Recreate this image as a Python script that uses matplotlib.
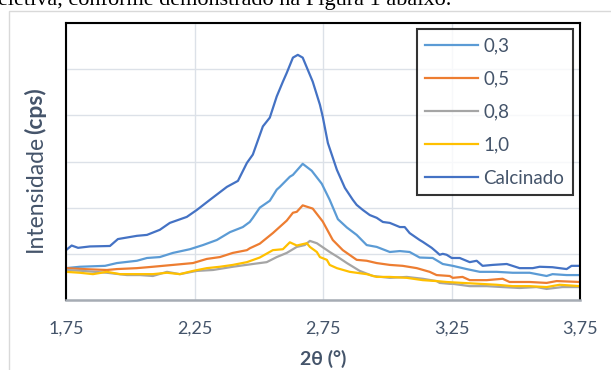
import matplotlib
matplotlib.use("Agg")
import matplotlib.pyplot as plt
from matplotlib.patches import Rectangle

# ---------------- data ----------------
t_calc = [1.750, 1.772, 1.797, 1.843, 1.921, 1.952, 2.026, 2.065, 2.115, 2.154, 2.220, 2.259, 2.310,
          2.376, 2.419, 2.454, 2.477, 2.516, 2.543, 2.570, 2.594, 2.609, 2.633, 2.652, 2.671, 2.710,
          2.738, 2.749, 2.769, 2.804, 2.835, 2.866, 2.881, 2.905, 2.932, 2.959, 2.983, 3.010, 3.049,
          3.068, 3.087, 3.126, 3.138, 3.173, 3.192, 3.204, 3.216, 3.231, 3.251, 3.282, 3.321, 3.348,
          3.371, 3.410, 3.465, 3.515, 3.566, 3.593, 3.643, 3.698, 3.717, 3.750]
v_calc = [108, 118, 113, 116, 117, 132, 139, 141, 152, 167, 180, 195, 217,
          245, 258, 297, 315, 376, 395, 441, 473, 492, 525, 531, 525, 473,
          423, 397, 340, 282, 243, 217, 206, 195, 184, 178, 169, 167, 158,
          158, 145, 130, 126, 113, 104, 98, 100, 98, 91, 91, 82, 85,
          74, 76, 78, 69, 69, 72, 71, 67, 74, 74]

t_03 = [1.750, 1.804, 1.902, 1.948, 2.026, 2.065, 2.115, 2.166, 2.232, 2.283, 2.337, 2.388, 2.438,
        2.465, 2.477, 2.504, 2.543, 2.570, 2.582, 2.621, 2.633, 2.671, 2.706, 2.745, 2.776, 2.808,
        2.843, 2.881, 2.920, 2.959, 3.010, 3.049, 3.087, 3.126, 3.177, 3.216, 3.255, 3.309, 3.360,
        3.426, 3.488, 3.554, 3.620, 3.643, 3.698, 3.750]
v_03 = [69, 72, 74, 80, 85, 91, 93, 102, 110, 119, 130, 147, 158,
        169, 178, 200, 215, 239, 245, 267, 271, 295, 280, 252, 217, 175,
        157, 141, 119, 115, 104, 106, 104, 92, 91, 78, 74, 67, 61,
        61, 59, 59, 52, 56, 54, 54]

t_05 = [1.750, 1.816, 1.909, 1.948, 2.026, 2.088, 2.166, 2.244, 2.298, 2.349, 2.399, 2.454, 2.465,
        2.504, 2.555, 2.609, 2.633, 2.648, 2.671, 2.710, 2.749, 2.788, 2.827, 2.881, 2.920, 2.959,
        3.010, 3.060, 3.115, 3.165, 3.192, 3.243, 3.255, 3.293, 3.321, 3.387, 3.449, 3.476, 3.554,
        3.620, 3.659, 3.750]
v_05 = [69, 67, 65, 67, 69, 72, 76, 80, 89, 93, 102, 108, 112,
        122, 145, 172, 189, 191, 205, 198, 170, 130, 108, 87, 85, 80,
        76, 74, 69, 61, 54, 52, 48, 50, 43, 43, 46, 39, 39,
        37, 41, 39]

t_08 = [1.750, 1.816, 1.909, 1.987, 2.038, 2.088, 2.143, 2.193, 2.259, 2.322, 2.399, 2.477, 2.531,
        2.570, 2.609, 2.648, 2.679, 2.699, 2.726, 2.776, 2.808, 2.843, 2.893, 2.944, 3.010, 3.076,
        3.138, 3.192, 3.204, 3.243, 3.255, 3.321, 3.387, 3.449, 3.515, 3.581, 3.620, 3.682, 3.750]
v_08 = [65, 63, 59, 54, 54, 52, 61, 56, 63, 65, 72, 78, 82,
        93, 102, 115, 119, 128, 123, 104, 93, 80, 63, 52, 48, 50,
        46, 41, 37, 35, 35, 30, 30, 28, 26, 28, 24, 28, 28]

t_10 = [1.750, 1.804, 1.855, 1.909, 1.960, 2.010, 2.088, 2.143, 2.193, 2.244, 2.298, 2.349, 2.399,
        2.454, 2.504, 2.555, 2.594, 2.621, 2.648, 2.671, 2.687, 2.699, 2.726, 2.738, 2.765, 2.776,
        2.804, 2.854, 2.920, 2.959, 3.010, 3.076, 3.138, 3.192, 3.231, 3.293, 3.360, 3.426, 3.488,
        3.554, 3.620, 3.671, 3.750]
v_10 = [61, 59, 56, 61, 56, 56, 56, 59, 56, 63, 69, 72, 76,
        82, 92, 108, 110, 125, 118, 121, 123, 115, 104, 93, 87, 76,
        69, 61, 56, 50, 50, 48, 43, 41, 39, 37, 35, 33, 30,
        30, 28, 33, 30]

series_labels = ["0,3", "0,5", "0,8", "1,0", "Calcinado"]
x_ticks = [1.75, 2.25, 2.75, 3.25, 3.75]
x_tick_labels = ["1,75", "2,25", "2,75", "3,25", "3,75"]

# ---------------- style ----------------
colors = ["#5B9BD5", "#ED7D31", "#A5A5A5", "#FFC000", "#4472C4"]
txt = "#44546A"
W, H = 611, 370
fig = plt.figure(figsize=(W / 100, H / 100), dpi=100)
plt.rcParams['font.family'] = ['Lato', 'DejaVu Sans']

# chart-area frame (light)
fig.patches.append(Rectangle((9 / W, -0.1), 1.2, 1 - 11 / H + 0.1, transform=fig.transFigure,
                             fill=False, edgecolor="#D9D9D9", linewidth=1.0))

# cut-off body text above the chart
fig.text(-2 / W, 1 - 5 / H, "eletiva, conforme demonstrado na Figura 1 abaixo.",
         family="Liberation Serif", fontsize=16, color="black", va="baseline", ha="left")

ax = fig.add_axes([66 / W, 1 - 300 / H, (580 - 66) / W, (300 - 23) / H])
data = [(t_03, v_03), (t_05, v_05), (t_08, v_08), (t_10, v_10), (t_calc, v_calc)]
for (t, v), c, lab in zip(data, colors, series_labels):
    ax.plot(t, v, color=c, lw=1.6, label=lab, solid_joinstyle="round")

ax.set_xlim(1.75, 3.75)
ax.set_ylim(0, 600)
ax.set_xticks(x_ticks)
ax.set_xticklabels(x_tick_labels)
ax.set_yticks(range(0, 601, 100))
ax.set_yticklabels([])
ax.tick_params(axis="both", length=0, labelsize=13, colors=txt)
ax.tick_params(axis="x", pad=15)
ax.grid(True, color="#DCE1E8", lw=1.0)
ax.set_axisbelow(True)
for s in ["left", "top", "right"]:
    ax.spines[s].set_color("black")
    ax.spines[s].set_linewidth(1.5)
ax.spines["bottom"].set_color("#A6ACB4")
ax.spines["bottom"].set_linewidth(1.8)

fig.text(323 / W, 1 - 359 / H, "2θ (°)", fontsize=14, fontweight="bold", color=txt,
         ha="center", va="center")
fig.text(35 / W, 1 - 193 / H, "Intensidade", fontsize=16.5, color=txt, rotation=90,
         ha="center", va="center")
fig.text(35 / W, 1 - 111 / H, "(cps)", fontsize=16.5, fontweight="bold", color=txt, rotation=90,
         ha="center", va="center")

leg = ax.legend(loc="upper left", bbox_to_anchor=(417 / W, 1 - 29 / H), bbox_transform=fig.transFigure,
                borderaxespad=0, frameon=True, fancybox=False, fontsize=13.5, handlelength=2.8,
                handletextpad=0.3, labelspacing=0.86, borderpad=0.45)
leg.get_frame().set_edgecolor("black")
leg.get_frame().set_linewidth(1.5)
for tx in leg.get_texts():
    tx.set_color(txt)

fig.savefig("out.png", dpi=100)
